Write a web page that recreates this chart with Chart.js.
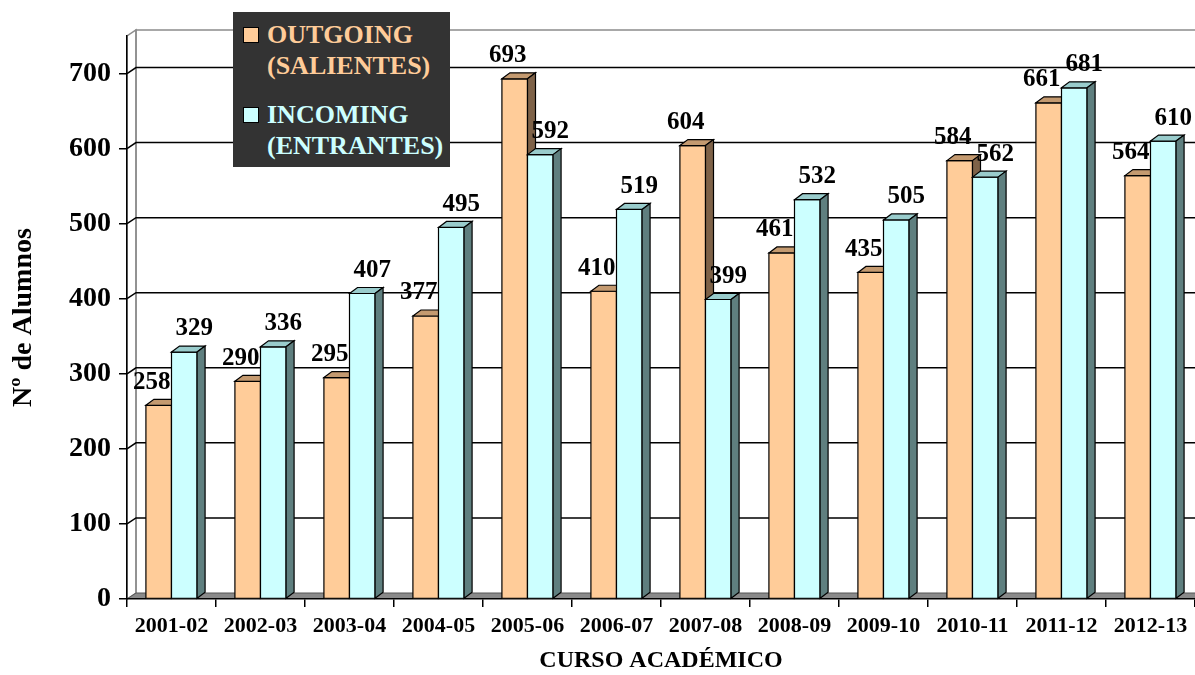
<!DOCTYPE html>
<html>
<head>
<meta charset="utf-8">
<script src="https://cdn.jsdelivr.net/npm/chart.js@4.4.0/dist/chart.umd.min.js"></script>
<style>
  html, body { margin: 0; padding: 0; background: #fff; }
  #wrap { position: relative; width: 1195px; height: 675px; }
  #legend {
    position: absolute; left: 233px; top: 12px; width: 217px; height: 155px;
    background: #333333; box-sizing: border-box; padding-top: 7px;
    font-family: "Liberation Serif", "Times New Roman", serif; font-weight: bold;
    font-size: 26px; line-height: 31px;
  }
  .item { position: relative; padding-left: 34px; white-space: nowrap; }
  .item + .item { margin-top: 18px; }
  .mark { position: absolute; left: 10px; top: 8px; width: 14px; height: 14px; border: 1px solid #000; }
</style>
</head>
<body>
<div id="wrap">
  <canvas id="chart" width="1195" height="675"></canvas>
  <div id="legend">
    <div class="item" style="color:#FFCC99"><span class="mark" style="background:#FFCC99"></span>OUTGOING<br>(SALIENTES)</div>
    <div class="item" style="color:#CCFFFF"><span class="mark" style="background:#CCFFFF"></span>INCOMING<br>(ENTRANTES)</div>
  </div>
</div>
<script>
  // datos
  const cursos = ['2001-02', '2002-03', '2003-04', '2004-05', '2005-06', '2006-07',
                  '2007-08', '2008-09', '2009-10', '2010-11', '2011-12', '2012-13'];
  const salientes = [258, 290, 295, 377, 693, 410, 604, 461, 435, 584, 661, 564];
  const entrantes = [329, 336, 407, 495, 592, 519, 399, 532, 505, 562, 681, 610];
  const yMax = 750;
  const yStep = 100;

  const FONT = '"Liberation Serif", "Times New Roman", serif';

  // colores (frente, arriba, lado)
  const COLORS = [
    { front: '#FFCC99', top: '#C49A70', side: '#7E6248', labelDx: -7 },
    { front: '#CCFFFF', top: '#99CCCC', side: '#5F7F7F', labelDx: 10 }
  ];
  const WALL = { dx: 9, dy: -6 };
  const BAR = { dx: 8, dy: -6 };

  function poly(ctx, pts, fill, stroke, lw) {
    ctx.beginPath();
    ctx.moveTo(pts[0][0], pts[0][1]);
    for (let i = 1; i < pts.length; i++) ctx.lineTo(pts[i][0], pts[i][1]);
    ctx.closePath();
    if (fill) { ctx.fillStyle = fill; ctx.fill(); }
    if (stroke) { ctx.strokeStyle = stroke; ctx.lineWidth = lw || 1; ctx.stroke(); }
  }

  // paredes y suelo 3D
  const wallsPlugin = {
    id: 'walls',
    beforeDraw(chart) {
      const { ctx, chartArea: a, scales: { y } } = chart;
      const L = a.left, R = a.right + WALL.dx, T = a.top, B = a.bottom;
      ctx.save();
      // pared lateral
      poly(ctx, [[L, B], [L, T], [L + WALL.dx, T + WALL.dy], [L + WALL.dx, B + WALL.dy]], '#fff', '#8c8c8c', 1.5);
      // pared del fondo
      ctx.strokeStyle = '#8c8c8c';
      ctx.lineWidth = 1.5;
      ctx.beginPath();
      ctx.moveTo(L + WALL.dx, B + WALL.dy);
      ctx.lineTo(L + WALL.dx, T + WALL.dy);
      ctx.lineTo(R, T + WALL.dy);
      ctx.stroke();
      // lineas de cuadricula
      ctx.strokeStyle = '#000';
      ctx.lineWidth = 1.5;
      y.ticks.forEach(t => {
        if (t.value <= 0 || t.value > 700) return;
        const py = y.getPixelForValue(t.value);
        ctx.beginPath();
        ctx.moveTo(L, py);
        ctx.lineTo(L + WALL.dx, py + WALL.dy);
        ctx.lineTo(R, py + WALL.dy);
        ctx.stroke();
      });
      // suelo
      poly(ctx, [[L, B], [L + WALL.dx, B + WALL.dy], [R, B + WALL.dy], [R, B]], '#8a8a8a', null);
      ctx.strokeStyle = '#555';
      ctx.lineWidth = 1;
      ctx.beginPath();
      ctx.moveTo(L, B);
      ctx.lineTo(L + WALL.dx, B + WALL.dy);
      ctx.lineTo(R, B + WALL.dy);
      ctx.stroke();
      ctx.restore();
    }
  };

  // barras 3D y etiquetas
  const bars3dPlugin = {
    id: 'bars3d',
    afterDatasetsDraw(chart) {
      const ctx = chart.ctx;
      const metas = [chart.getDatasetMeta(0), chart.getDatasetMeta(1)];
      ctx.save();
      ctx.lineJoin = 'miter';
      cursos.forEach((c, i) => {
        metas.forEach((meta, d) => {
          const el = meta.data[i];
          const { x, y, width, base } = el.getProps(['x', 'y', 'width', 'base'], true);
          const l = x - width / 2, r = x + width / 2;
          const col = COLORS[d];
          poly(ctx, [[l, base], [l, y], [r, y], [r, base]], col.front, '#000', 1.2);
          poly(ctx, [[l, y], [l + BAR.dx, y + BAR.dy], [r + BAR.dx, y + BAR.dy], [r, y]], col.top, '#000', 1.2);
          poly(ctx, [[r, y], [r + BAR.dx, y + BAR.dy], [r + BAR.dx, base + BAR.dy], [r, base]], col.side, '#000', 1.2);
        });
      });
      ctx.fillStyle = '#000';
      ctx.font = 'bold 25px ' + FONT;
      ctx.textAlign = 'center';
      ctx.textBaseline = 'middle';
      metas.forEach((meta, d) => {
        const values = chart.data.datasets[d].data;
        meta.data.forEach((el, i) => {
          ctx.fillText(String(values[i]), el.x + COLORS[d].labelDx, el.y - 23);
        });
      });
      ctx.restore();
    }
  };

  new Chart(document.getElementById('chart'), {
    type: 'bar',
    data: {
      labels: cursos,
      datasets: [
        { label: 'OUTGOING (SALIENTES)', data: salientes, backgroundColor: 'transparent', borderWidth: 0 },
        { label: 'INCOMING (ENTRANTES)', data: entrantes, backgroundColor: 'transparent', borderWidth: 0 }
      ]
    },
    options: {
      responsive: false,
      animation: false,
      events: [],
      layout: { padding: { top: 36, right: 0, left: 0, bottom: 0 } },
      datasets: { bar: { categoryPercentage: 0.575, barPercentage: 1 } },
      plugins: { legend: { display: false }, tooltip: { enabled: false } },
      scales: {
        x: {
          afterFit: s => { s.height = 76; },
          grid: { offset: true, drawOnChartArea: false, tickLength: 8, color: '#000', lineWidth: 1.5 },
          border: { color: '#000', width: 1.5 },
          ticks: { color: '#000', font: { family: FONT, weight: 'bold', size: 22 }, padding: 6, maxRotation: 0 },
          title: { display: true, text: 'CURSO ACADÉMICO', color: '#000',
                   font: { family: FONT, weight: 'bold', size: 24 }, padding: { top: 0, bottom: 0 } }
        },
        y: {
          min: 0, max: yMax,
          afterFit: s => { s.width = 127; },
          grid: { drawOnChartArea: false, tickLength: 8, color: '#000', lineWidth: 1.5 },
          border: { color: '#000', width: 1.5 },
          ticks: { stepSize: yStep, includeBounds: false, color: '#000', padding: 8,
                   font: { family: FONT, weight: 'bold', size: 28 } },
          title: { display: true, text: 'Nº de Alumnos', color: '#000',
                   font: { family: FONT, weight: 'bold', size: 28 }, padding: { top: 7, bottom: 4 } }
        }
      }
    },
    plugins: [wallsPlugin, bars3dPlugin]
  });
</script>
</body>
</html>
